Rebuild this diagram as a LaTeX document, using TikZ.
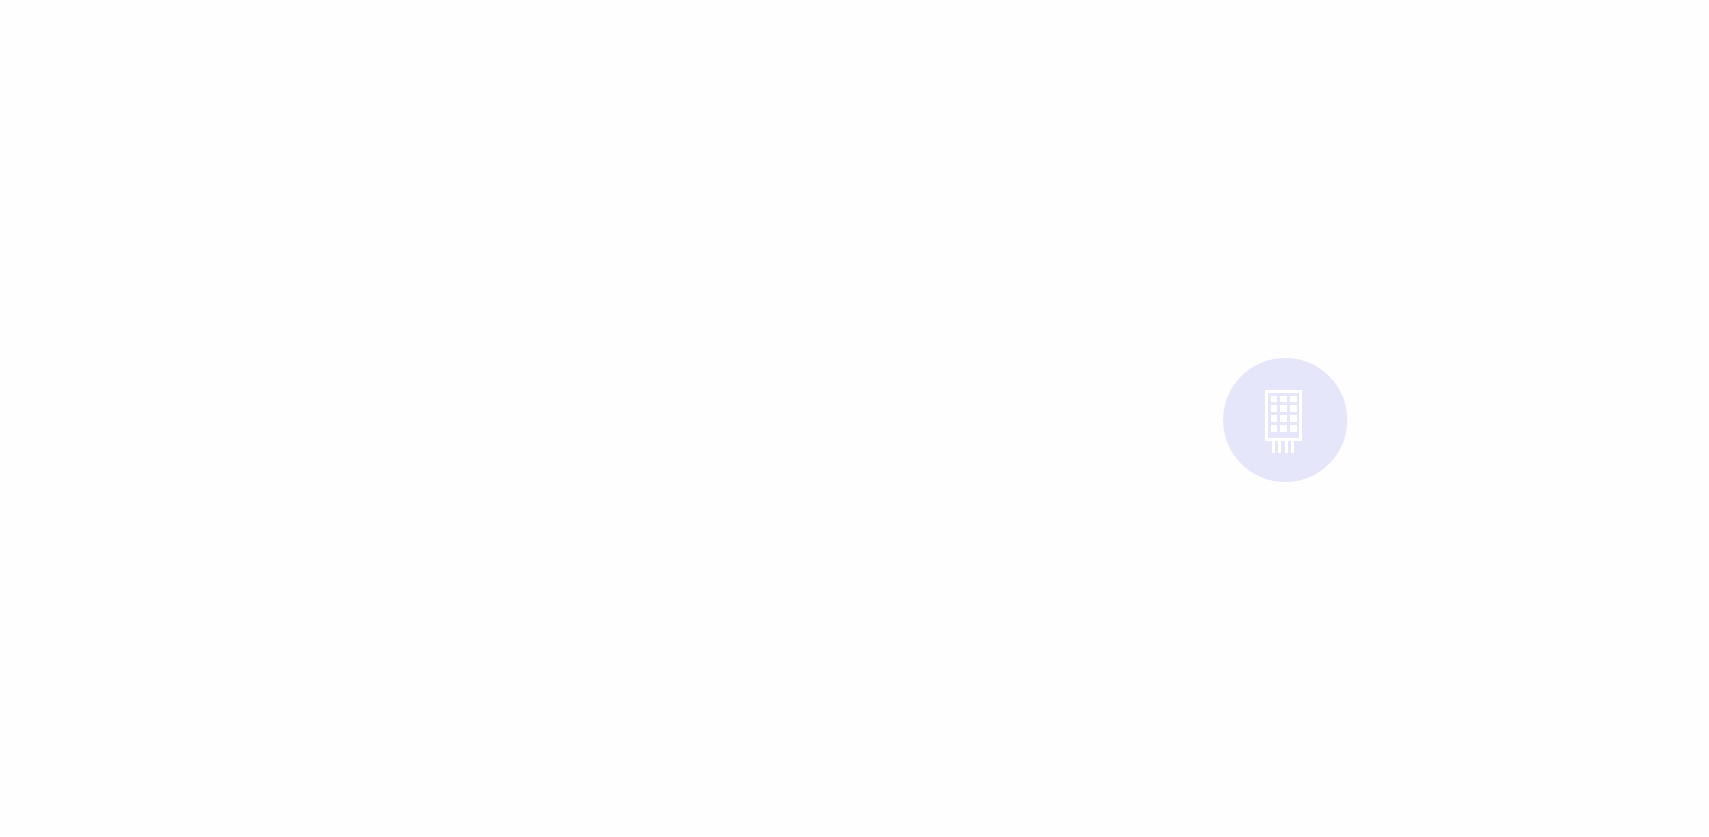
\documentclass[tikz,border=0pt]{standalone}
\definecolor{disc}{HTML}{E6E6FA}
\definecolor{page}{HTML}{FEFEFE}
\tikzset{
  badge/.style={circle,fill=disc,draw=none,minimum size=124pt,inner sep=0pt},
  iconpart/.style={fill=white,draw=none}
}
\begin{document}
\begin{tikzpicture}[x=1pt,y=-1pt]
\useasboundingbox (0,0) rectangle (1709,836);
\fill[page] (0,0) rectangle (1709,836);
\node[badge] (badge) at (1285.2,420) {};
% body frame
\draw[white,line width=3pt] (1266.8,391.8) rectangle (1300.3,439.3);
% window grid
\foreach \cx in {1270.7,1280.3,1290.0}
  \foreach \cy in {395.7,405.4,415.3,425.2}
    \fill[iconpart] (\cx,\cy) rectangle ++(6.7,6.7);
% pins
\foreach \px in {1272,1278.4,1285,1291.3}
  \fill[iconpart] (\px,441) rectangle ++(2.7,12.4);
\end{tikzpicture}
\end{document}
